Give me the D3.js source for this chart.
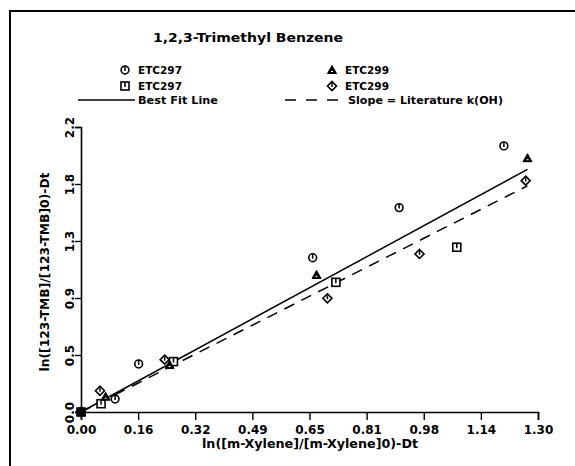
<!DOCTYPE html>
<html lang="en">
<head>
<meta charset="UTF-8"/>
<title>1,2,3-Trimethyl Benzene</title>
<script src="https://d3js.org/d3.v7.min.js"></script>
<style>
    body { margin: 0; background: #fff; }
    text { font-family: "DejaVu Sans", sans-serif; font-weight: bold; fill: #000; }
</style>
</head>
<body>
<script>
    // chart size
    var w = 575;
    var h = 466;

    // data
    var etc297Circle = [[0, 0], [0.097, 0.100], [0.164, 0.371], [0.659, 1.191], [0.905, 1.578], [1.203, 2.054]];
    var etc297Square = [[0, 0], [0.057, 0.064], [0.263, 0.389], [0.725, 1.001], [1.069, 1.272]];
    var etc299Triangle = [[0, 0], [0.070, 0.118], [0.252, 0.363], [0.670, 1.058], [1.270, 1.959]];
    var etc299Diamond = [[0, 0], [0.054, 0.164], [0.238, 0.404], [0.701, 0.878], [0.963, 1.220], [1.265, 1.786]];
    var bestFit = [[0, 0], [1.27, 1.873]];
    var literature = [[0, 0], [1.27, 1.746]];

    var xTickLabels = ["0.00", "0.16", "0.32", "0.49", "0.65", "0.81", "0.98", "1.14", "1.30"];
    var yTickLabels = ["0.0", "0.5", "0.9", "1.3", "1.8", "2.2"];
    var xMax = 1.3, yMax = 2.2;

    var xScale = d3.scaleLinear().domain([0, xMax]).range([81, 538]);
    var yScale = d3.scaleLinear().domain([0, yMax]).range([412, 127]);

    var svg = d3.select("body").append("svg")
        .attr("width", w)
        .attr("height", h);

    // outer frame (left and top only visible)
    svg.append("path")
        .attr("d", "M10,466 L10,11 L575,11")
        .attr("fill", "none")
        .attr("stroke", "#000")
        .attr("stroke-width", 2);

    // title
    svg.append("text")
        .attr("x", 248).attr("y", 42)
        .attr("text-anchor", "middle")
        .attr("font-size", "13px")
        .attr("textLength", 190).attr("lengthAdjust", "spacingAndGlyphs")
        .text("1,2,3-Trimethyl Benzene");

    // axes
    var xTickVals = xTickLabels.map(function (d, i) { return i * xMax / (xTickLabels.length - 1); });
    var yTickVals = yTickLabels.map(function (d, i) { return i * yMax / (yTickLabels.length - 1); });

    var xAxis = d3.axisBottom(xScale)
        .tickValues(xTickVals)
        .tickSize(8)
        .tickFormat(function (d, i) { return xTickLabels[i]; });

    var gx = svg.append("g")
        .attr("transform", "translate(0," + yScale(0) + ")")
        .call(xAxis);
    gx.select(".domain").attr("stroke-width", 1.6);
    gx.selectAll(".tick line").attr("stroke-width", 1.4);
    gx.selectAll(".tick text")
        .attr("y", 13)
        .attr("font-size", "12px")
        .attr("font-family", "DejaVu Sans")
        .attr("font-weight", "bold");

    var yAxis = d3.axisLeft(yScale)
        .tickValues(yTickVals)
        .tickSize(6)
        .tickFormat(function (d, i) { return yTickLabels[i]; });

    var gy = svg.append("g")
        .attr("transform", "translate(" + xScale(0) + ",0)")
        .call(yAxis);
    gy.select(".domain").attr("stroke-width", 1.6);
    gy.selectAll(".tick line").attr("stroke-width", 1.4);
    gy.selectAll(".tick text")
        .attr("x", null).attr("dy", null)
        .attr("transform", "translate(-7,0) rotate(-90)")
        .attr("text-anchor", "middle")
        .attr("font-size", "12px")
        .attr("font-family", "DejaVu Sans")
        .attr("font-weight", "bold");

    // axis titles
    svg.append("text")
        .attr("x", 310).attr("y", 448)
        .attr("text-anchor", "middle")
        .attr("font-size", "12px")
        .attr("textLength", 216).attr("lengthAdjust", "spacingAndGlyphs")
        .text("ln([m-Xylene]/[m-Xylene]0)-Dt");

    svg.append("text")
        .attr("transform", "translate(49,272) rotate(-90)")
        .attr("text-anchor", "middle")
        .attr("font-size", "12px")
        .attr("textLength", 199).attr("lengthAdjust", "spacingAndGlyphs")
        .text("ln([123-TMB]/[123-TMB]0)-Dt");

    // lines
    var line = d3.line()
        .x(function (d) { return xScale(d[0]); })
        .y(function (d) { return yScale(d[1]); });

    svg.append("path").datum(bestFit)
        .attr("d", line)
        .attr("fill", "none").attr("stroke", "#000").attr("stroke-width", 1.5);

    svg.append("path").datum(literature)
        .attr("d", line)
        .attr("fill", "none").attr("stroke", "#000").attr("stroke-width", 1.5)
        .attr("stroke-dasharray", "11,8");

    // marker drawing helpers
    function drawMarker(g, type) {
        if (type === "circle") {
            g.append("circle").attr("r", 3.9).attr("fill", "#fff").attr("stroke", "#000").attr("stroke-width", 1.6);
            g.append("line").attr("x1", 0).attr("y1", -3.5).attr("x2", 0).attr("y2", 1).attr("stroke", "#000").attr("stroke-width", 1.5);
        } else if (type === "square") {
            g.append("rect").attr("x", -4).attr("y", -4).attr("width", 8).attr("height", 8)
                .attr("fill", "#fff").attr("stroke", "#000").attr("stroke-width", 1.6);
            g.append("line").attr("x1", 0).attr("y1", -3.5).attr("x2", 0).attr("y2", 1).attr("stroke", "#000").attr("stroke-width", 1.5);
        } else if (type === "triangle") {
            g.append("path").attr("d", "M0,-4.5 L4.5,3.5 L-4.5,3.5 Z")
                .attr("fill", "#000").attr("stroke", "#000").attr("stroke-width", 1);
            g.append("line").attr("x1", -1).attr("y1", 1.5).attr("x2", 1).attr("y2", 1.5).attr("stroke", "#fff").attr("stroke-width", 1);
        } else if (type === "diamond") {
            g.append("path").attr("d", "M0,-4.5 L4.5,0 L0,4.5 L-4.5,0 Z")
                .attr("fill", "#fff").attr("stroke", "#000").attr("stroke-width", 1.6);
            g.append("line").attr("x1", 0).attr("y1", -3).attr("x2", 0).attr("y2", 1).attr("stroke", "#000").attr("stroke-width", 1.5);
        }
    }

    var series = [
        { data: etc297Circle, type: "circle" },
        { data: etc297Square, type: "square" },
        { data: etc299Triangle, type: "triangle" },
        { data: etc299Diamond, type: "diamond" }
    ];

    series.forEach(function (s) {
        svg.selectAll(null)
            .data(s.data)
            .enter()
            .append("g")
            .attr("transform", function (d) { return "translate(" + xScale(d[0]) + "," + yScale(d[1]) + ")"; })
            .each(function () { drawMarker(d3.select(this), s.type); });
    });

    // overlapping points at origin show as a black blob
    svg.append("rect")
        .attr("x", xScale(0) - 4).attr("y", yScale(0) - 4)
        .attr("width", 8).attr("height", 8)
        .attr("fill", "#000");

    // legend
    var legend = [
        { label: "ETC297", type: "circle", x: 125, y: 70 },
        { label: "ETC297", type: "square", x: 125, y: 86 },
        { label: "ETC299", type: "triangle", x: 332, y: 70 },
        { label: "ETC299", type: "diamond", x: 332, y: 86 }
    ];

    legend.forEach(function (d) {
        var g = svg.append("g").attr("transform", "translate(" + d.x + "," + d.y + ")");
        drawMarker(g, d.type);
        svg.append("text")
            .attr("x", d.x + 13).attr("y", d.y + 4)
            .attr("font-size", "11px")
            .attr("textLength", 44).attr("lengthAdjust", "spacingAndGlyphs")
            .text(d.label);
    });

    svg.append("line")
        .attr("x1", 78).attr("y1", 100).attr("x2", 135).attr("y2", 100)
        .attr("stroke", "#000").attr("stroke-width", 1.5);
    svg.append("text")
        .attr("x", 138).attr("y", 104)
        .attr("font-size", "11px")
        .attr("textLength", 80).attr("lengthAdjust", "spacingAndGlyphs")
        .text("Best Fit Line");

    svg.append("line")
        .attr("x1", 285).attr("y1", 100).attr("x2", 338).attr("y2", 100)
        .attr("stroke", "#000").attr("stroke-width", 1.5)
        .attr("stroke-dasharray", "11,10");
    svg.append("text")
        .attr("x", 348).attr("y", 104)
        .attr("font-size", "11px")
        .attr("textLength", 155).attr("lengthAdjust", "spacingAndGlyphs")
        .text("Slope = Literature k(OH)");
</script>
</body>
</html>
